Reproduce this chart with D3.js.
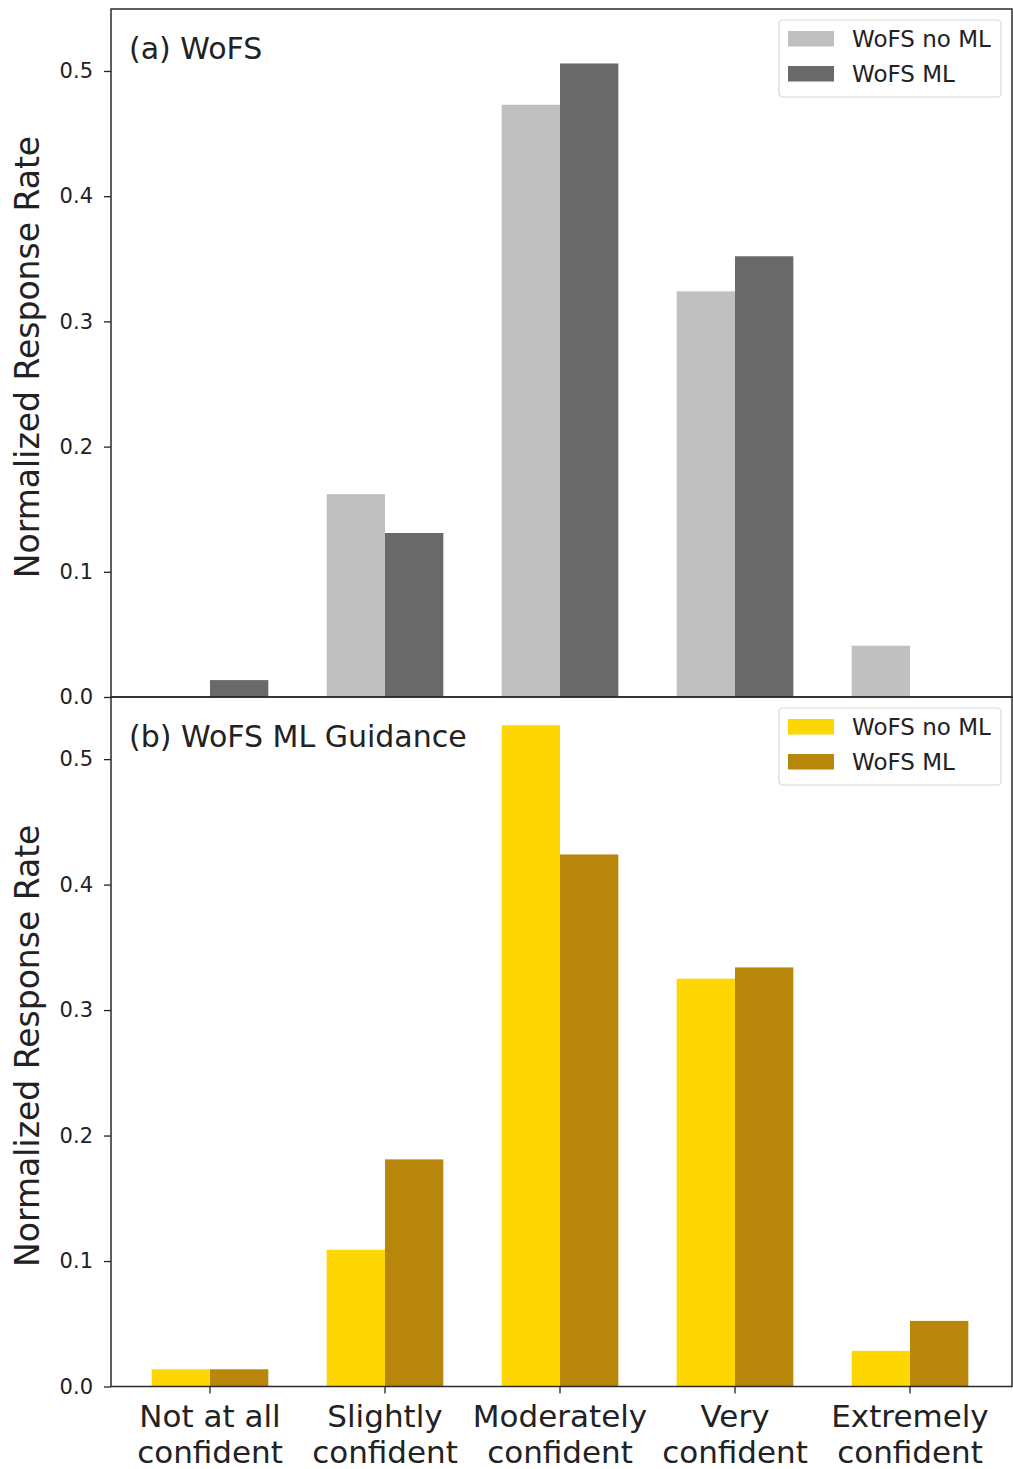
<!DOCTYPE html>
<html>
<head>
<meta charset="utf-8">
<script src="https://cdn.jsdelivr.net/npm/d3@7"></script>
<style>
  html, body { margin: 0; padding: 0; background: #fff; }
  svg { display: block; font-family: "DejaVu Sans", sans-serif; }
</style>
</head>
<body>
<svg id="chart" width="1013" height="1469"></svg>
<script>
// ---- data ----
const categories = ["Not at all confident", "Slightly confident", "Moderately confident", "Very confident", "Extremely confident"];
const categoryLines = [["Not at all", "confident"], ["Slightly", "confident"], ["Moderately", "confident"], ["Very", "confident"], ["Extremely", "confident"]];
const seriesNames = ["WoFS no ML", "WoFS ML"];
const wofsNoML = [0.0, 0.162, 0.473, 0.324, 0.041];
const wofsML = [0.0135, 0.131, 0.506, 0.352, 0.0];
const guidanceNoML = [0.0137, 0.109, 0.527, 0.325, 0.0284];
const guidanceML = [0.0137, 0.181, 0.424, 0.334, 0.0523];
const yTicks = [0.0, 0.1, 0.2, 0.3, 0.4, 0.5];
const panelTitles = ["(a) WoFS", "(b) WoFS ML Guidance"];
const yLabel = "Normalized Response Rate";

const panels = [
  { title: panelTitles[0], series: [wofsNoML, wofsML], colors: ["#c0c0c0", "#696969"], top: 9, bottom: 697 },
  { title: panelTitles[1], series: [guidanceNoML, guidanceML], colors: ["#ffd700", "#b8860b"], top: 697, bottom: 1386.5 }
];

const svg = d3.select("#chart");
const left = 111, right = 1012;
const yMax = 0.5495;

const x = d3.scaleBand().domain(categories).range([122.5, 997.5]).paddingInner(1/3).paddingOuter(1/6);
const xs = d3.scaleBand().domain(seriesNames).range([0, x.bandwidth()]);

panels.forEach((p, pi) => {
  const y = d3.scaleLinear().domain([0, yMax]).range([p.bottom, p.top]);
  const g = svg.append("g");

  // bars
  p.series.forEach((vals, si) => {
    g.selectAll(null).data(vals).enter().append("rect")
      .attr("x", (d, i) => x(categories[i]) + xs(seriesNames[si]))
      .attr("width", xs.bandwidth())
      .attr("y", d => y(d))
      .attr("height", d => y(0) - y(d))
      .attr("fill", p.colors[si]);
  });

  // y axis
  const ya = g.append("g").attr("transform", `translate(${left},0)`)
    .call(d3.axisLeft(y).tickValues(yTicks).tickFormat(d3.format(".1f")).tickSize(7).tickPadding(11));
  ya.select(".domain").remove();
  ya.selectAll(".tick line").attr("stroke", "#222").attr("stroke-width", 1.3);
  ya.selectAll(".tick text").attr("font-size", 21).attr("fill", "#222").attr("font-family", "DejaVu Sans");

  // frame
  g.append("rect").attr("x", left).attr("y", p.top).attr("width", right - left).attr("height", p.bottom - p.top)
    .attr("fill", "none").attr("stroke", "#2a2a2a").attr("stroke-width", 1.5);

  // panel title
  g.append("text").attr("x", 129).attr("y", p.top + 50).text(p.title)
    .attr("font-size", 30).attr("fill", "#222");

  // y label
  g.append("text").attr("transform", `translate(39,${(p.top + p.bottom) / 2 + 4}) rotate(-90)`)
    .attr("text-anchor", "middle").attr("font-size", 33).attr("fill", "#222").text(yLabel);

  // legend
  const lg = g.append("g").attr("transform", `translate(779,${p.top + 11})`);
  lg.append("rect").attr("width", 222).attr("height", 77).attr("rx", 4)
    .attr("fill", "#fff").attr("fill-opacity", 0.85).attr("stroke", "#d8d8d8").attr("stroke-width", 1.2);
  seriesNames.forEach((s, si) => {
    lg.append("rect").attr("x", 9).attr("y", 11 + si * 35).attr("width", 46).attr("height", 15.5).attr("fill", p.colors[si]);
    lg.append("text").attr("x", 73).attr("y", 19 + si * 35).attr("dy", "0.36em")
      .attr("font-size", 23).attr("fill", "#222").text(s);
  });
});

// bottom x axis
const xa = svg.append("g").attr("transform", `translate(0,1386.5)`)
  .call(d3.axisBottom(x).tickSize(7).tickFormat(""));
xa.select(".domain").remove();
xa.selectAll(".tick line").attr("stroke", "#222").attr("stroke-width", 1.3);

const labelG = svg.append("g");
categories.forEach((d, i) => {
  categoryLines[i].forEach((line, li) => {
    labelG.append("text")
      .attr("x", x(d) + x.bandwidth() / 2)
      .attr("y", 1427 + li * 36)
      .attr("text-anchor", "middle").attr("font-size", 31).attr("fill", "#222")
      .text(line);
  });
});
</script>
</body>
</html>
